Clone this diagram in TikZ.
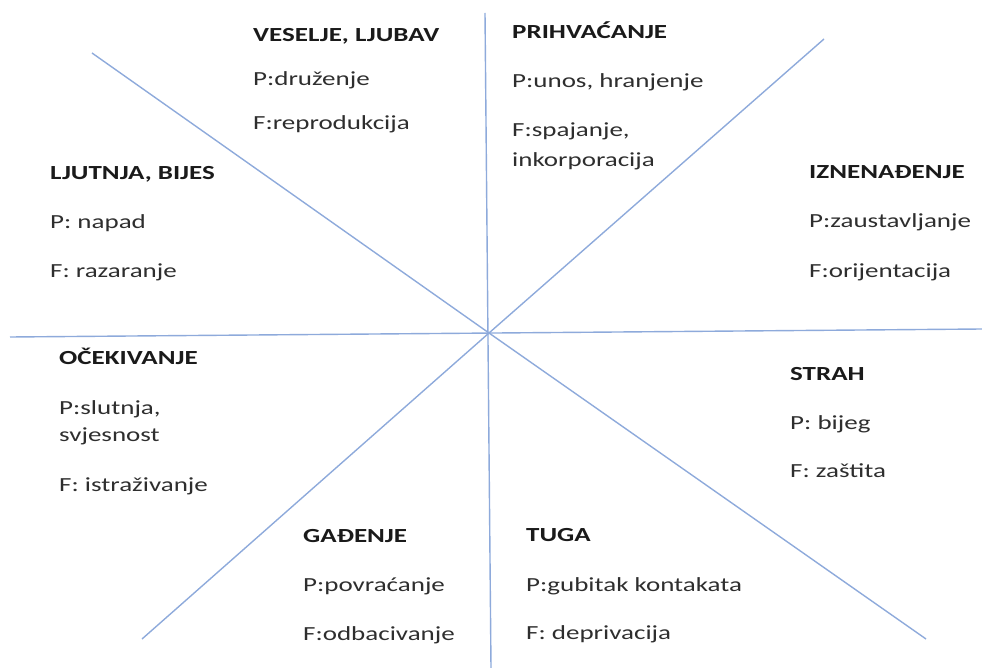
\documentclass[tikz,border=0pt]{standalone}
\usepackage{fontspec}
\setmainfont{Carlito}
\definecolor{axis}{HTML}{8EAADB}
\definecolor{ttl}{HTML}{1A1A1A}
\definecolor{txt}{HTML}{2E2E2E}
\newcommand{\wide}[1]{\scalebox{1.35}[1]{#1}}
\tikzset{
  axisline/.style={draw=axis, line width=1.4pt},
  title/.style={anchor=base west, inner sep=0pt, text=ttl, font=\fontsize{20}{24}\selectfont\bfseries},
  body/.style={anchor=base west, inner sep=0pt, text=txt, font=\fontsize{20}{24}\selectfont},
}
\begin{document}
\begin{tikzpicture}[x=1pt,y=-1pt]
\useasboundingbox (0,0) rectangle (982,668);
% axes
\coordinate (c) at (489,333);
\coordinate (vt) at (485,13);
\coordinate (vb) at (491,668);
\coordinate (hl) at (10,337);
\coordinate (hr) at (982,329);
\coordinate (d1a) at (92,53);
\coordinate (d1b) at (926,639);
\coordinate (d2a) at (824,39);
\coordinate (d2b) at (142,639);
\draw[axisline] (vt) -- (vb);
\draw[axisline] (hl) -- (hr);
\draw[axisline] (d1a) -- (c) -- (d1b);
\draw[axisline] (d2a) -- (c) -- (d2b);
% texts
\node[title] (t1) at (253,42) {\wide{VESELJE, LJUBAV}};
\node[body] (t1p) at (253,86) {\wide{P:druženje}};
\node[body] (t1f) at (253,130) {\wide{F:reprodukcija}};

\node[title] (t2) at (512,39) {\wide{PRIHVAĆANJE}};
\node[body] (t2p) at (512,88) {\wide{P:unos, hranjenje}};
\node[body] (t2f) at (512,137) {\wide{F:spajanje,}};
\node[body] (t2g) at (512,167) {\wide{inkorporacija}};

\node[title] (t3) at (50,180) {\wide{LJUTNJA, BIJES}};
\node[body] (t3p) at (50,229) {\wide{P: napad}};
\node[body] (t3f) at (50,278) {\wide{F: razaranje}};

\node[title] (t4) at (809,179) {\wide{IZNENAĐENJE}};
\node[body] (t4p) at (809,228) {\wide{P:zaustavljanje}};
\node[body] (t4f) at (809,277) {\wide{F:orijentacija}};

\node[title] (t5) at (59,364) {\wide{OČEKIVANJE}};
\node[body] (t5p) at (59,414) {\wide{P:slutnja,}};
\node[body] (t5q) at (59,441) {\wide{svjesnost}};
\node[body] (t5f) at (59,491) {\wide{F: istraživanje}};

\node[title] (t6) at (790,380) {\wide{STRAH}};
\node[body] (t6p) at (790,429) {\wide{P: bijeg}};
\node[body] (t6f) at (790,477) {\wide{F: zaštita}};

\node[title] (t7) at (303,542) {\wide{GAĐENJE}};
\node[body] (t7p) at (303,591) {\wide{P:povraćanje}};
\node[body] (t7f) at (303,640) {\wide{F:odbacivanje}};

\node[title] (t8) at (526,541) {\wide{TUGA}};
\node[body] (t8p) at (526,591) {\wide{P:gubitak kontakata}};
\node[body] (t8f) at (526,639) {\wide{F: deprivacija}};
\end{tikzpicture}
\end{document}
